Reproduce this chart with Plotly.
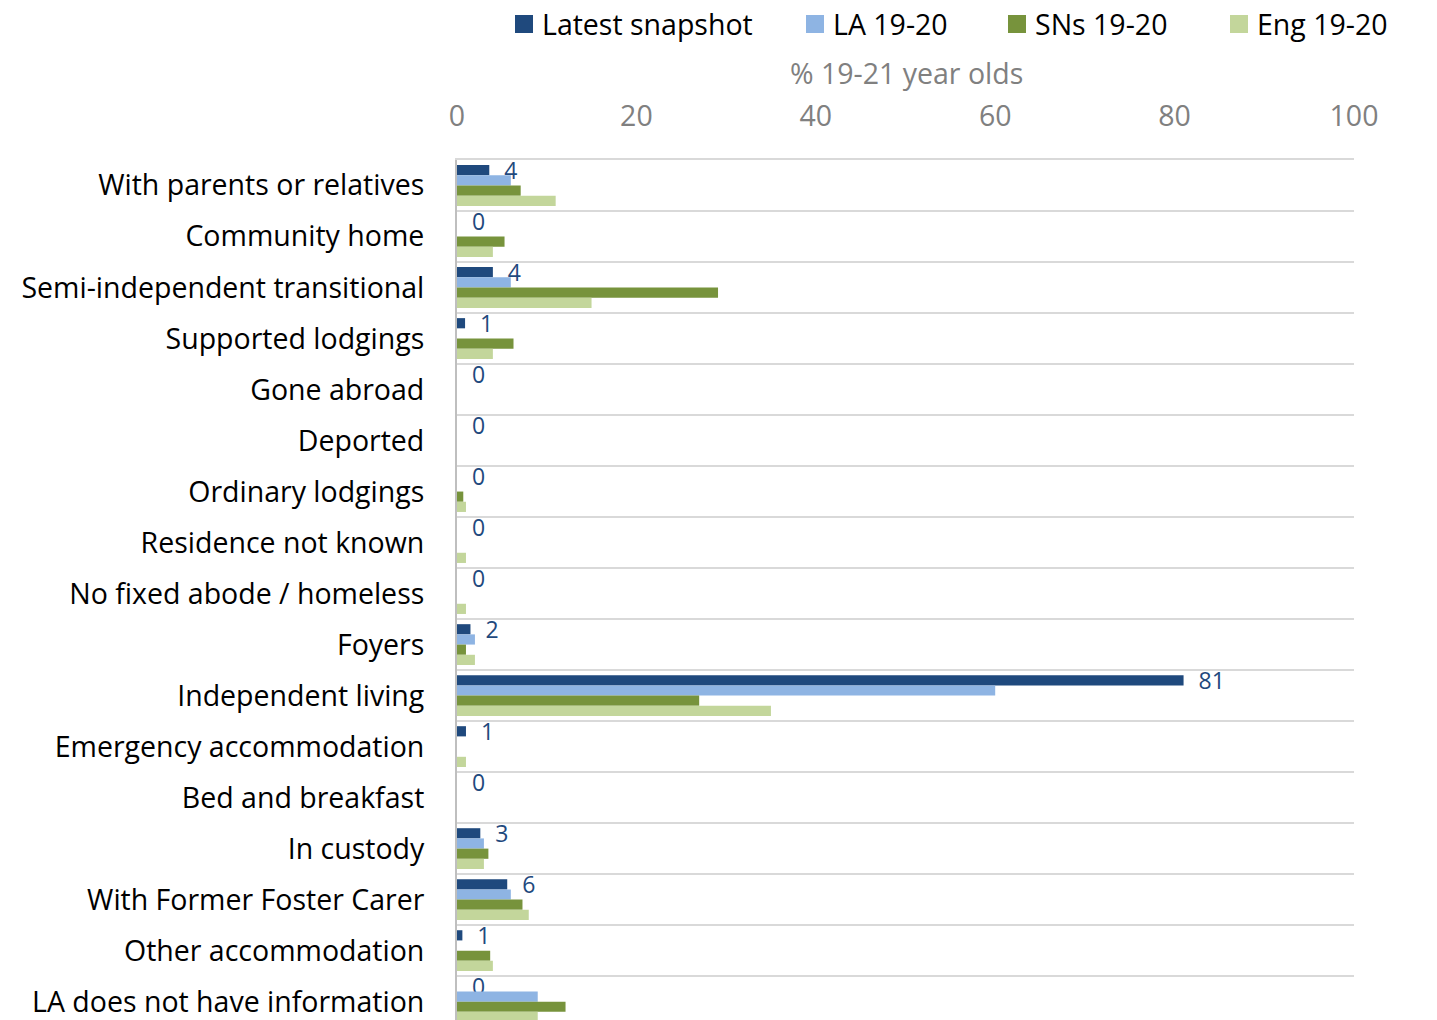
import plotly.graph_objects as go

categories = [
    "With parents or relatives", "Community home", "Semi-independent transitional",
    "Supported lodgings", "Gone abroad", "Deported", "Ordinary lodgings",
    "Residence not known", "No fixed abode / homeless", "Foyers",
    "Independent living", "Emergency accommodation", "Bed and breakfast",
    "In custody", "With Former Foster Carer", "Other accommodation",
    "LA does not have information",
]
latest = [3.6, 0, 4.0, 0.9, 0, 0, 0, 0, 0, 1.5, 81.0, 1.0, 0, 2.6, 5.6, 0.6, 0]
la_1920 = [6.0, 0, 6.0, 0, 0, 0, 0, 0, 0, 2.0, 60.0, 0, 0, 3.0, 6.0, 0, 9.0]
sns_1920 = [7.1, 5.3, 29.1, 6.3, 0, 0, 0.7, 0, 0, 1.0, 27.0, 0, 0, 3.5, 7.3, 3.7, 12.1]
eng_1920 = [11.0, 4.0, 15.0, 4.0, 0, 0, 1.0, 1.0, 1.0, 2.0, 35.0, 1.0, 0, 3.0, 8.0, 4.0, 9.0]
x_ticks = [0, 20, 40, 60, 80, 100]

series_names = ["Latest snapshot", "LA 19-20", "SNs 19-20", "Eng 19-20"]
series_values = [latest, la_1920, sns_1920, eng_1920]
series_colors = ["#1f497d", "#8eb4e3", "#77933c", "#c3d69b"]

FONT = "Open Sans, Segoe UI, sans-serif"

# page geometry (body has 8px default margin)
W, H = 1429, 1012
ML, MR, MT, MB = 449, 83, 152, 0
PW = W - ML - MR
PH = H - MT - MB


def px_x(px):  # page px -> paper x
    return (px - 8 - ML) / PW


def px_y(py):  # page px -> paper y
    return (H - MB - (py - 8)) / PH


fig = go.Figure()
for i, (name, vals, col) in enumerate(zip(series_names, series_values, series_colors)):
    kw = {}
    if i == 0:
        kw = dict(
            texttemplate="\u00a0\u00a0%{x:.0f}",
            textposition="outside",
            textfont=dict(color="#1f497d", size=23, family=FONT),
            constraintext="none",
            cliponaxis=False,
        )
    fig.add_trace(go.Bar(
        y=categories, x=vals, name=name, orientation="h",
        marker=dict(color=col, line=dict(width=0)),
        showlegend=False,
        **kw,
    ))

# manual legend (larger square swatches, like the reference)
legend_sq_x = [515, 806, 1008, 1230]
shapes = []
annotations = []
for name, col, sx in zip(series_names, series_colors, legend_sq_x):
    shapes.append(dict(
        type="rect", xref="paper", yref="paper",
        x0=px_x(sx), x1=px_x(sx + 18), y0=px_y(33), y1=px_y(15),
        fillcolor=col, line=dict(width=0),
    ))
    annotations.append(dict(
        text=name, xref="paper", yref="paper",
        x=px_x(sx + 25), y=px_y(24), xanchor="left", yanchor="middle",
        showarrow=False, font=dict(size=28.5, color="#000000", family=FONT),
    ))

annotations.append(dict(
    text="% 19-21 year olds", xref="paper", yref="paper",
    x=px_x(906), y=px_y(73), xanchor="center", yanchor="middle",
    showarrow=False, font=dict(size=28.5, color="#808080", family=FONT),
))

fig.update_layout(
    width=W, height=H,
    margin=dict(l=ML, r=MR, t=MT, b=MB, pad=0),
    barmode="group", bargap=0.2, bargroupgap=0,
    plot_bgcolor="white", paper_bgcolor="white",
    font=dict(family=FONT, color="#000000"),
    showlegend=False,
    xaxis=dict(
        side="top", range=[0, 100], tickvals=x_ticks,
        showgrid=False, zeroline=False,
        showline=True, linecolor="#d9d9d9", linewidth=2,
        tickfont=dict(size=28.5, color="#808080", family=FONT),
        ticks="", ticklabelstandoff=21,
    ),
    yaxis=dict(
        type="category", categoryorder="array", categoryarray=categories,
        range=[16.36, -0.5],
        tickson="boundaries", showgrid=True, gridcolor="#d9d9d9", gridwidth=2,
        ticks="", showline=True, linecolor="#bfbfbf", linewidth=2,
        tickfont=dict(size=28.5, color="#000000", family=FONT),
        ticklabelstandoff=25,
    ),
    shapes=shapes,
    annotations=annotations,
)

fig.write_html("out.html")
